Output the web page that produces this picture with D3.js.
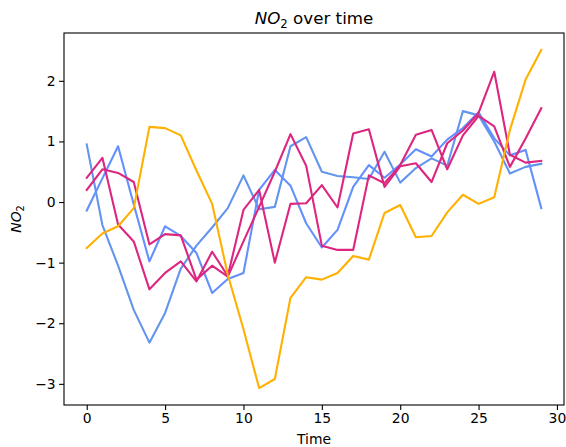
<!DOCTYPE html>
<html lang="en">
<head>
<meta charset="utf-8">
<title>NO2 over time</title>
<script src="https://d3js.org/d3.v7.min.js"></script>
<style>
  body { margin: 0; background: #fff; }
  text { font-family: "DejaVu Sans", sans-serif; fill: #000; }
</style>
</head>
<body>
<script>
  // time steps 0..29
  var time = d3.range(30);

  // readings per station
  var stationA = [0.95, -0.38, -1.05, -1.78, -2.32, -1.83, -1.1, -0.72, -0.42, -0.1,
                  0.44, -0.12, -0.08, 0.92, 1.07, 0.5, 0.43, 0.41, 0.38, 0.83,
                  0.32, 0.56, 0.72, 0.6, 1.5, 1.43, 1.0, 0.47, 0.58, 0.63];
  var stationB = [-0.14, 0.39, 0.92, -0.04, -0.98, -0.4, -0.56, -0.84, -1.5, -1.27,
                  -1.17, 0.2, 0.53, 0.27, -0.35, -0.75, -0.46, 0.25, 0.61, 0.4,
                  0.62, 0.87, 0.75, 1.03, 1.22, 1.48, 1.05, 0.77, 0.86, -0.1];
  var stationC = [0.4, 0.73, -0.37, -0.65, -1.44, -1.17, -0.98, -1.31, -0.82, -1.22,
                  -0.13, 0.2, -1.0, -0.03, -0.02, 0.28, -0.09, 1.13, 1.2, 0.25,
                  0.59, 0.64, 0.33, 0.97, 1.18, 1.47, 2.15, 0.78, 0.65, 0.68];
  var stationD = [0.2, 0.54, 0.48, 0.33, -0.7, -0.53, -0.55, -1.28, -1.05, -1.23,
                  -0.65, -0.08, 0.5, 1.12, 0.6, -0.72, -0.79, -0.79, 0.44, 0.31,
                  0.61, 1.11, 1.19, 0.54, 1.1, 1.42, 1.25, 0.58, 1.05, 1.55];
  var stationE = [-0.76, -0.52, -0.4, -0.1, 1.24, 1.22, 1.1, 0.52, -0.03, -1.2,
                  -2.1, -3.07, -2.92, -1.58, -1.24, -1.28, -1.17, -0.89, -0.95, -0.18,
                  -0.05, -0.58, -0.56, -0.17, 0.12, -0.03, 0.08, 1.19, 2.02, 2.51];

  var series = [stationA, stationB, stationC, stationD, stationE];
  var colors = ['#6495ED', '#648FFF', '#DC267F', '#DC267F', '#FFB000'];

  var xTicks = [0, 5, 10, 15, 20, 25, 30];
  var yTicks = [-3, -2, -1, 0, 1, 2];

  var W = 566, H = 447;
  var plot = { left: 64, right: 564, top: 33, bottom: 405 };

  var svg = d3.select('body').append('svg')
    .attr('width', W)
    .attr('height', H);

  // matplotlib-like 5% margins
  var xMin = d3.min(time), xMax = d3.max(time);
  var xPad = (xMax - xMin) * 0.05;
  var all = d3.merge(series);
  var yMin = d3.min(all), yMax = d3.max(all);
  var yPad = (yMax - yMin) * 0.05;

  var x = d3.scaleLinear().domain([xMin - xPad, xMax + xPad]).range([plot.left, plot.right]);
  var y = d3.scaleLinear().domain([yMin - yPad, yMax + yPad]).range([plot.bottom, plot.top]);

  var line = d3.line()
    .x(function (d, i) { return x(time[i]); })
    .y(function (d) { return y(d); });

  svg.append('g')
    .selectAll('path')
    .data(series)
    .enter()
    .append('path')
    .attr('d', line)
    .attr('fill', 'none')
    .attr('stroke', function (d, i) { return colors[i]; })
    .attr('stroke-width', 2.1)
    .attr('stroke-linejoin', 'round')
    .attr('stroke-linecap', 'square');

  // axes
  var fmt = d3.format('d');
  var xAxis = svg.append('g')
    .attr('transform', 'translate(0,' + plot.bottom + ')')
    .call(d3.axisBottom(x).tickValues(xTicks).tickFormat(fmt)
      .tickSize(4.9).tickPadding(3.5).tickSizeOuter(0));
  var yAxis = svg.append('g')
    .attr('transform', 'translate(' + plot.left + ',0)')
    .call(d3.axisLeft(y).tickValues(yTicks).tickFormat(fmt)
      .tickSize(4.9).tickPadding(3.5).tickSizeOuter(0));

  [xAxis, yAxis].forEach(function (g) {
    g.select('.domain').remove();
    g.selectAll('.tick line').attr('stroke', '#000').attr('stroke-width', 1.1);
    g.selectAll('.tick text')
      .attr('font-family', '"DejaVu Sans", sans-serif')
      .attr('font-size', 13.9)
      .attr('fill', '#000');
  });

  // frame
  svg.append('rect')
    .attr('x', plot.left)
    .attr('y', plot.top)
    .attr('width', plot.right - plot.left)
    .attr('height', plot.bottom - plot.top)
    .attr('fill', 'none')
    .attr('stroke', '#000')
    .attr('stroke-width', 1.1);

  // title
  var title = svg.append('text')
    .attr('x', (plot.left + plot.right) / 2)
    .attr('y', 24)
    .attr('text-anchor', 'middle')
    .attr('font-size', 16.7);
  title.append('tspan').attr('font-style', 'italic').text('NO');
  title.append('tspan').attr('font-size', 11.7).attr('dy', 3.5).text('2');
  title.append('tspan').attr('dy', -3.5).text(' over time');

  // x label
  svg.append('text')
    .attr('x', (plot.left + plot.right) / 2)
    .attr('y', 444)
    .attr('text-anchor', 'middle')
    .attr('font-size', 13.9)
    .text('Time');

  // y label
  var ylab = svg.append('text')
    .attr('transform', 'translate(21,' + ((plot.top + plot.bottom) / 2) + ') rotate(-90)')
    .attr('text-anchor', 'middle')
    .attr('font-size', 13.9);
  ylab.append('tspan').attr('font-style', 'italic').text('NO');
  ylab.append('tspan').attr('font-size', 9.7).attr('dy', 3).text('2');
</script>
</body>
</html>
